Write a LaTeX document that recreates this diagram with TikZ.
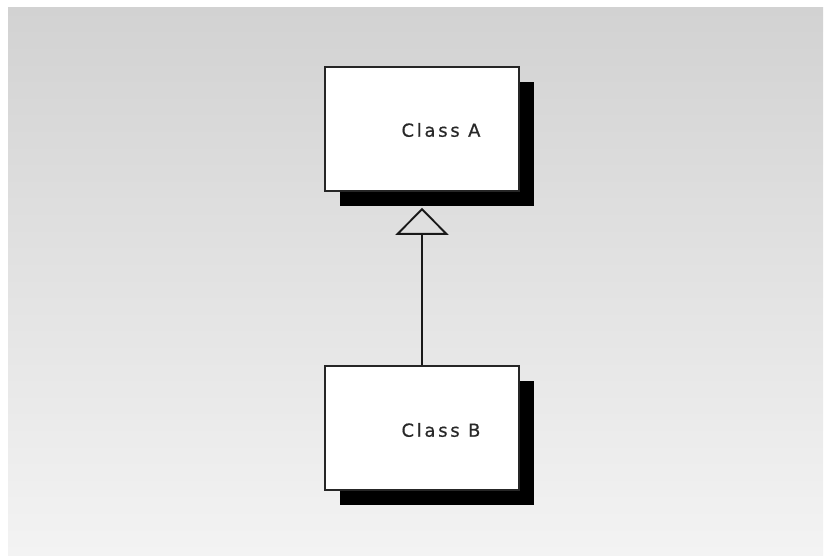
\documentclass[tikz,border=0pt]{standalone}
\usepackage{fontspec}
\setmainfont{DejaVu Sans}
\newfontfamily\classfont[LetterSpace=15,FakeBold=0.6]{DejaVu Sans}
\usepackage{tikz}
\usetikzlibrary{arrows.meta,positioning,shadows}
\definecolor{bgtop}{RGB}{210,210,210}
\definecolor{bgbot}{RGB}{243,243,243}
\definecolor{ink}{RGB}{40,40,40}

\begin{document}
\begin{tikzpicture}[
  x=1pt, y=-1pt,
  every node/.style={font=\classfont\fontsize{18}{21}\selectfont, text=ink},
  classbox/.style={draw=black!85, line width=1.7pt, fill=white,
                   minimum width=194pt, minimum height=124pt,
                   drop shadow={shadow xshift=15pt, shadow yshift=-15pt,
                                fill=black, opacity=1}},
  inherit/.style={-{Triangle[open, length=27pt, width=53pt]}, line width=1.9pt, black!90},
]
\useasboundingbox (0,0) rectangle (825,558);
\shade[top color=bgtop, bottom color=bgbot] (8,7) rectangle (823,555);

\node[classbox] (A) at (422,129) {};
\node[classbox] (B) at (422,428) {};
\node (labA) at (441,130) {Class A};
\node (labB) at (441,430) {Class B};

\coordinate (Atip) at ([yshift=-16pt]A.south);
\draw[inherit] (B.north) -- (Atip);
\end{tikzpicture}
\end{document}
